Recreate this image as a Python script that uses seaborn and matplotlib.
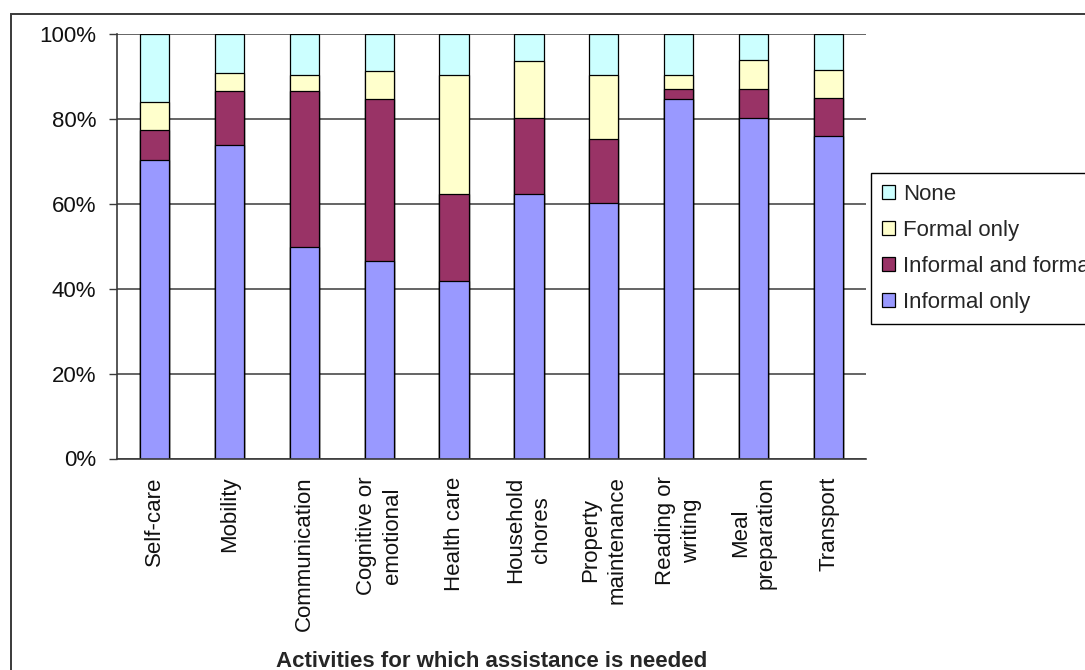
import numpy as np
import matplotlib
matplotlib.use("Agg")
import matplotlib.pyplot as plt
from matplotlib.patches import Patch, Rectangle
import seaborn as sns

# Activities and share of people receiving each type of assistance (%)
activities = [
    "Self-care", "Mobility", "Communication", "Cognitive or\nemotional",
    "Health care", "Household\nchores", "Property\nmaintenance",
    "Reading or\nwriting", "Meal\npreparation", "Transport",
]
informal_only = [70.3, 73.9, 49.9, 46.6, 41.8, 62.3, 60.3, 84.6, 80.1, 76.0]
informal_and_formal = [7.0, 12.6, 36.6, 38.0, 20.5, 17.8, 14.9, 2.5, 7.0, 8.9]
formal_only = [6.7, 4.4, 3.8, 6.8, 28.0, 13.6, 15.1, 3.2, 6.8, 6.6]
no_assistance = [16.0, 9.1, 9.7, 8.6, 9.7, 6.3, 9.7, 9.7, 6.1, 8.5]

series_names = ["None", "Formal only", "Informal and formal", "Informal only"]
y_ticks = [0, 20, 40, 60, 80, 100]
y_tick_labels = ["0%", "20%", "40%", "60%", "80%", "100%"]
x_title = "Activities for which assistance is needed"

colors = {
    "None": "#CCFFFF",
    "Formal only": "#FFFFCC",
    "Informal and formal": "#993366",
    "Informal only": "#9999FF",
}

sns.set_style("white")
plt.rcParams["font.family"] = ["Liberation Sans", "DejaVu Sans"]

fig = plt.figure(figsize=(10.85, 6.70), dpi=100)
ax = fig.add_axes([117 / 1085, 1 - 458.5 / 670, (866 - 117) / 1085, (458.5 - 34) / 670])

# Stack by drawing cumulative totals from tallest to shortest
layers = np.array([informal_only, informal_and_formal, formal_only, no_assistance])
cum = np.cumsum(layers, axis=0)
order_top_down = [(3, "None"), (2, "Formal only"), (1, "Informal and formal"), (0, "Informal only")]
for idx, name in order_top_down:
    sns.barplot(x=activities, y=cum[idx], color=colors[name], saturation=1,
                edgecolor="black", linewidth=0.9, width=0.39, ax=ax, zorder=3)

ax.set_xlim(-0.5, len(activities) - 0.5)
ax.set_ylim(0, 100)

# Gridlines
ax.set_yticks(y_ticks)
ax.set_yticklabels(y_tick_labels)
ax.yaxis.grid(True, color="#3a3a3a", linewidth=1.1, zorder=0)
ax.xaxis.grid(False)
ax.set_axisbelow(True)

# Category ticks between bars, labels at bar centres
ax.set_xticks(range(len(activities)))
ax.set_xticklabels(activities, rotation=90, ha="center", va="top",
                   multialignment="center", fontsize=16, linespacing=1.3,
                   color="#111111")
ax.set_xticks(np.arange(-0.5, len(activities)), minor=True)
ax.tick_params(axis="x", which="major", length=0, pad=13)
ax.tick_params(axis="x", which="minor", length=6, width=1, color="#3a3a3a", direction="out")
ax.tick_params(axis="y", which="major", length=6, width=1, color="#3a3a3a",
               direction="out", left=True, pad=9, labelsize=16, labelcolor="#111111")

for side in ["top", "right"]:
    ax.spines[side].set_visible(False)
for side in ["left", "bottom"]:
    ax.spines[side].set_color("#3a3a3a")
    ax.spines[side].set_linewidth(1.2)
    ax.spines[side].set_zorder(4)

ax.set_ylabel("")
ax.set_xlabel(x_title, fontsize=16, fontweight="bold")
ax.xaxis.set_label_coords(0.5, -0.4535)

# Legend
handles = [Patch(facecolor=colors[n], edgecolor="black", linewidth=0.9) for n in series_names]
leg = fig.legend(handles, series_names, loc="upper left",
                 bbox_to_anchor=(871 / 1085, 1 - 172.7 / 670), bbox_transform=fig.transFigure,
                 fontsize=16, frameon=True, fancybox=False, framealpha=1,
                 edgecolor="black", borderaxespad=0, borderpad=0.5,
                 handlelength=0.6, handleheight=0.6, handletextpad=0.35,
                 labelspacing=0.68)
leg.get_frame().set_linewidth(1.0)

# Outer chart border
fig.add_artist(Rectangle((11 / 1085, -0.1), 2.0, 1 - 14 / 670 + 0.1,
                         transform=fig.transFigure, fill=False,
                         edgecolor="#3a3a3a", linewidth=1.4))

fig.savefig("out.png", dpi=100)
